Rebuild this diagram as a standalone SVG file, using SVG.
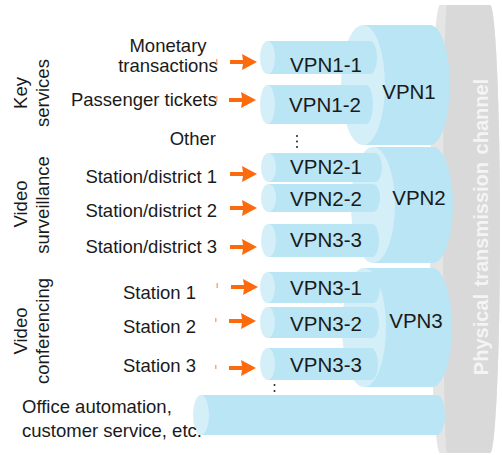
<svg xmlns="http://www.w3.org/2000/svg" width="502" height="455" viewBox="0 0 502 455">
  <style>
    .lbl { font-family: "Liberation Sans", Arial, sans-serif; font-size: 18.5px; fill: #1a1a1a; }
    .vpn { font-family: "Liberation Sans", Arial, sans-serif; font-size: 20.5px; fill: #1a1a1a; text-anchor: middle; }
    .body { fill: #b9e5f5; }
    .face { fill: #d5eff9; }
    .arrow { fill: #fb6a0c; }
    .tick { fill: #fb6a0c; opacity: 0.6; }
    .dot { fill: #222; }
  </style>

  <!-- physical transmission channel -->
  <g id="channel">
    <path d="M440,5 L490,5 A10,224 0 0 1 490,453 L440,453 A10,224 0 0 1 440,5 Z" fill="#e5e5e5"/>
    <path d="M447,5 L490,5 A10,224 0 0 1 490,453 L447,453 A4,224 0 0 1 447,5 Z" fill="#d9d9d9"/>
    <text x="488" y="227" transform="rotate(-90 488 227)" font-family="Liberation Sans, Arial, sans-serif" font-size="20" font-weight="bold" fill="#f4f4f4" text-anchor="middle" word-spacing="2">Physical transmission channel</text>
  </g>

  <!-- aggregate VPN tunnels -->
  <g id="vpn1">
    <path class="body" d="M363,25 L430,25 A20,60 0 0 1 430,145 L363,145 Z"/>
    <ellipse class="face" cx="363" cy="85" rx="22" ry="60"/>
    <text class="vpn" x="409" y="99">VPN1</text>
  </g>
  <g id="vpn2">
    <path class="body" d="M373,147 L433,147 A20,58 0 0 1 433,263 L373,263 Z"/>
    <ellipse class="face" cx="373" cy="205" rx="22" ry="58"/>
    <text class="vpn" x="419" y="205">VPN2</text>
  </g>
  <g id="vpn3">
    <path class="body" d="M364,268 L432,268 A20,59.5 0 0 1 432,387 L364,387 Z"/>
    <ellipse class="face" cx="364" cy="327.5" rx="22" ry="59.5"/>
    <text class="vpn" x="416" y="328">VPN3</text>
  </g>

  <!-- per-service tunnels -->
  <g id="vpn1-1">
    <path class="body" d="M267.5,41 L370,41 A7,16.5 0 0 1 370,74 L267.5,74 Z"/>
    <ellipse class="face" cx="267.5" cy="57.5" rx="7.5" ry="16.5"/>
    <text class="vpn" x="326" y="72">VPN1-1</text>
  </g>
  <g id="vpn1-2">
    <path class="body" d="M267.5,85 L366,85 A7,19.5 0 0 1 366,124 L267.5,124 Z"/>
    <ellipse class="face" cx="267.5" cy="104.5" rx="7.5" ry="19.5"/>
    <text class="vpn" x="325" y="112">VPN1-2</text>
  </g>
  <g id="vpn2-1">
    <path class="body" d="M268.5,153 L375,153 A7,14.5 0 0 1 375,182 L268.5,182 Z"/>
    <ellipse class="face" cx="268.5" cy="167.5" rx="7.5" ry="14.5"/>
    <text class="vpn" x="326" y="174">VPN2-1</text>
  </g>
  <g id="vpn2-2">
    <path class="body" d="M268.5,184 L373,184 A7,14 0 0 1 373,212 L268.5,212 Z"/>
    <ellipse class="face" cx="268.5" cy="198" rx="7.5" ry="14"/>
    <text class="vpn" x="326" y="206">VPN2-2</text>
  </g>
  <g id="vpn2-3">
    <path class="body" d="M268.5,224 L372,224 A7,16.5 0 0 1 372,257 L268.5,257 Z"/>
    <ellipse class="face" cx="268.5" cy="240.5" rx="7.5" ry="16.5"/>
    <text class="vpn" x="326" y="247">VPN3-3</text>
  </g>
  <g id="vpn3-1">
    <path class="body" d="M267.5,272 L373,272 A7,15.5 0 0 1 373,303 L267.5,303 Z"/>
    <ellipse class="face" cx="267.5" cy="287.5" rx="7.5" ry="15.5"/>
    <text class="vpn" x="326" y="295">VPN3-1</text>
  </g>
  <g id="vpn3-2">
    <path class="body" d="M267.5,307 L372,307 A7,15.5 0 0 1 372,338 L267.5,338 Z"/>
    <ellipse class="face" cx="267.5" cy="322.5" rx="7.5" ry="15.5"/>
    <text class="vpn" x="326" y="331">VPN3-2</text>
  </g>
  <g id="vpn3-3">
    <path class="body" d="M267.5,348 L371,348 A7,16 0 0 1 371,380 L267.5,380 Z"/>
    <ellipse class="face" cx="267.5" cy="364" rx="7.5" ry="16"/>
    <text class="vpn" x="326" y="372">VPN3-3</text>
  </g>
  <g id="vpn-office">
    <path class="body" d="M201,395 L437,395 A8,20 0 0 1 437,435 L201,435 Z"/>
    <ellipse class="face" cx="201" cy="415" rx="8" ry="20"/>
  </g>

  <!-- vertical ellipses -->
  <g id="more">
    <circle class="dot" cx="297" cy="136" r="1"/>
    <circle class="dot" cx="297" cy="141.5" r="1"/>
    <circle class="dot" cx="297" cy="147" r="1"/>
    <circle class="dot" cx="274.5" cy="385" r="1"/>
    <circle class="dot" cx="274.5" cy="391" r="1"/>
  </g>

  <!-- service labels -->
  <g id="labels">
    <text class="lbl" x="168" y="52" text-anchor="middle">Monetary</text>
    <text class="lbl" x="168" y="72" text-anchor="middle">transactions</text>
    <text class="lbl" x="217" y="106" text-anchor="end">Passenger tickets</text>
    <text class="lbl" x="216" y="145" text-anchor="end">Other</text>
    <text class="lbl" x="217" y="183" text-anchor="end">Station/district 1</text>
    <text class="lbl" x="217" y="217" text-anchor="end">Station/district 2</text>
    <text class="lbl" x="217" y="253" text-anchor="end">Station/district 3</text>
    <text class="lbl" x="196" y="299" text-anchor="end">Station 1</text>
    <text class="lbl" x="196" y="333" text-anchor="end">Station 2</text>
    <text class="lbl" x="196" y="372" text-anchor="end">Station 3</text>
    <text class="lbl" x="22" y="413">Office automation,</text>
    <text class="lbl" x="22" y="437">customer service, etc.</text>
  </g>

  <!-- category labels -->
  <g id="categories">
    <text class="lbl" x="27" y="93" transform="rotate(-90 27 93)" text-anchor="middle">Key</text>
    <text class="lbl" x="49" y="93" transform="rotate(-90 49 93)" text-anchor="middle">services</text>
    <text class="lbl" x="27" y="204" transform="rotate(-90 27 204)" text-anchor="middle">Video</text>
    <text class="lbl" x="49" y="205" transform="rotate(-90 49 205)" text-anchor="middle">surveillance</text>
    <text class="lbl" x="27" y="331" transform="rotate(-90 27 331)" text-anchor="middle">Video</text>
    <text class="lbl" x="49" y="331" transform="rotate(-90 49 331)" text-anchor="middle">conferencing</text>
  </g>

  <!-- input arrows -->
  <defs>
    <polygon id="arr" points="0,-2 13,-2 12,-8 27,0 12,8 13,2 0,2"/>
  </defs>
  <g id="connectors">
    <use href="#arr" class="arrow" x="230" y="62"/>
    <use href="#arr" class="arrow" x="229" y="100"/>
    <use href="#arr" class="arrow" x="230" y="174"/>
    <use href="#arr" class="arrow" x="230" y="208"/>
    <use href="#arr" class="arrow" x="230" y="247"/>
    <use href="#arr" class="arrow" x="231" y="287"/>
    <use href="#arr" class="arrow" x="229" y="321"/>
    <use href="#arr" class="arrow" x="229" y="368"/>
    <rect class="tick" x="216" y="59" width="1.5" height="6"/>
    <rect class="tick" x="216" y="96" width="1.5" height="6"/>
    <rect class="tick" x="216.5" y="283" width="1.5" height="5"/>
    <rect class="tick" x="215" y="318" width="1.5" height="4"/>
    <rect class="tick" x="215" y="365" width="1.5" height="4"/>
  </g>
</svg>
